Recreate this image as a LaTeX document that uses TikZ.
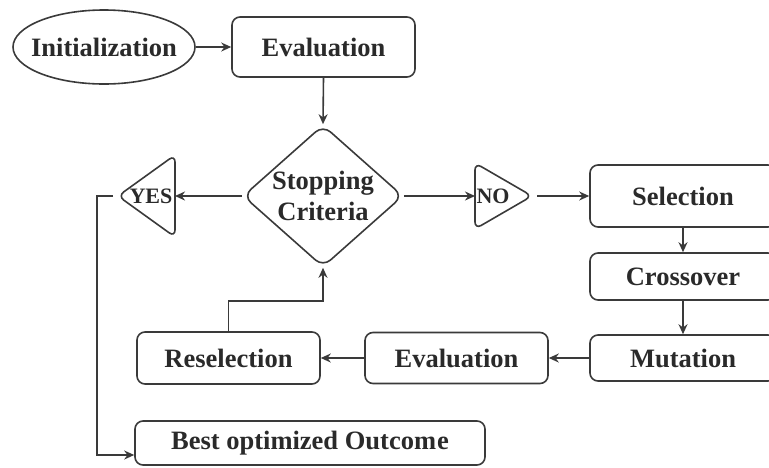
\documentclass[tikz,border=0pt]{standalone}
\usepackage{fontspec}
\setmainfont{Liberation Serif}[BoldFont={Liberation Serif Bold}]
\usetikzlibrary{shapes.geometric,arrows.meta}
\definecolor{ink}{HTML}{3A3A3A}
\definecolor{txt}{HTML}{2A2A2A}
\begin{document}
\begin{tikzpicture}[x=1pt,y=-1pt,
  box/.style={draw=ink, line width=1.6pt, rounded corners=8pt, inner sep=0pt,
    text=txt, font=\rmfamily\bfseries\fontsize{26.5}{31}\selectfont},
  flagtext/.style={inner sep=0pt, text=txt, font=\rmfamily\bfseries\fontsize{22}{25}\selectfont},
  flag/.style={draw=ink, line width=1.6pt, rounded corners=7pt},
  link/.style={draw=ink, line width=1.6pt, -{Stealth[length=10pt,width=9pt]}}
]
\useasboundingbox (0,0) rectangle (769,467);
\clip (0,0) rectangle (769,467);

% start and first evaluation
\node[box, ellipse, inner sep=-14pt, minimum width=182pt, minimum height=74pt] (init) at (104,47) {Initialization};
\node[box, minimum width=183pt, minimum height=60pt] (eval1) at (323.5,47) {Evaluation};

% decision
\node[box, diamond, rounded corners=10pt, aspect=1.13, inner sep=-10pt,
  minimum width=160pt, minimum height=142pt, align=center] (stop) at (323,196) {Stopping\\Criteria};

% YES / NO flags
\node[flagtext] (yes) at (151,196) {YES};
\draw[flag] (118,196) -- (175,155) -- (175,237) -- cycle;
\coordinate (yesTip) at (118,196);
\coordinate (yesBase) at (175,196);
\node[flagtext] (no) at (493,196) {NO};
\draw[flag] (475,163) -- (532,196) -- (475,229) -- cycle;
\coordinate (noBase) at (475,196);
\coordinate (noTip) at (532,196);

% genetic operators
\node[box, minimum width=186pt, minimum height=62pt] (sel) at (683,196) {Selection};
\node[box, minimum width=186pt, minimum height=47pt] (cross) at (683,276.5) {Crossover};
\node[box, minimum width=186pt, minimum height=46pt] (mut) at (683,358) {Mutation};
\node[box, minimum width=183pt, minimum height=51pt] (eval2) at (456.5,358) {Evaluation};
\node[box, minimum width=183pt, minimum height=52pt] (resel) at (228.5,358) {Reselection};

% result
\node[box, minimum width=350pt, minimum height=44pt] (best) at (310,443) {Best optimized Outcom\kern1pt e};
\coordinate (bestIn) at ([yshift=-12pt]best.west);

% connectors
\draw[link] (init.east) -- (eval1.west);
\draw[link] (eval1.south) -- (stop.north);
\draw[link] (stop.west) -- (yesBase);
\draw[link] (stop.east) -- (noBase);
\draw[link] (noTip) ++(5,0) -- (sel.west);
\draw[link] (sel.south) -- (cross.north);
\draw[link] (cross.south) -- (mut.north);
\draw[link] (mut.west) -- (eval2.east);
\draw[link] (eval2.west) -- (resel.east);
\draw[link] (resel.north) -- ++(0,-30) -| (stop.south);
\draw[link] (yesTip) ++(-5,0) -- ++(-16,0) |- (bestIn);
\end{tikzpicture}
\end{document}
